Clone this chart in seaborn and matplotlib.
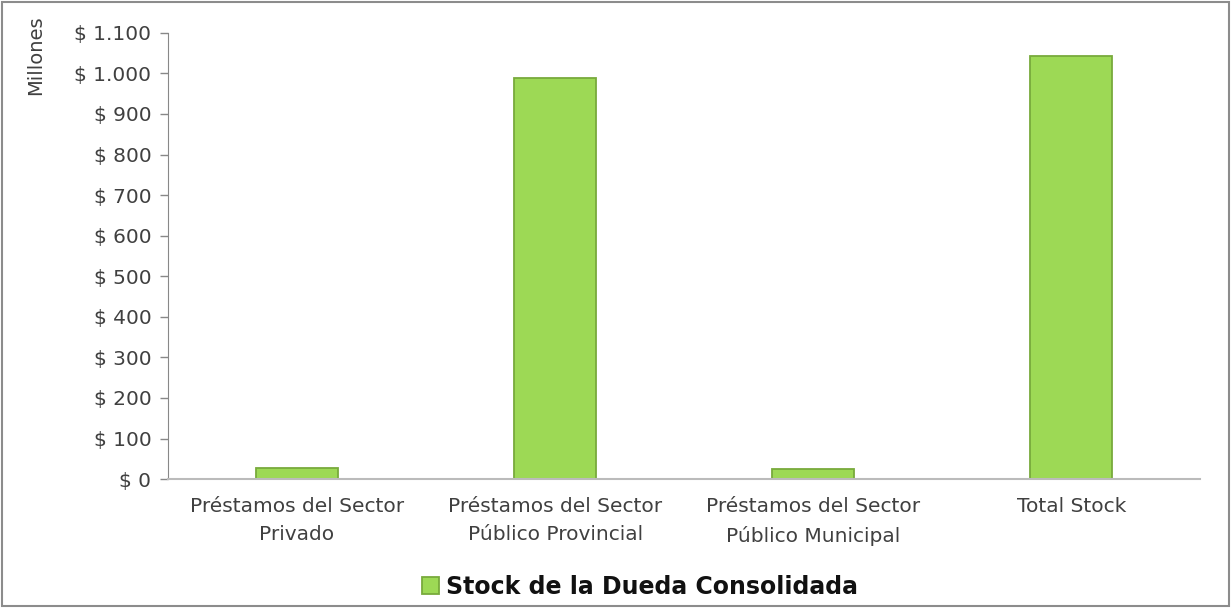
import matplotlib
matplotlib.use("Agg")
import matplotlib.pyplot as plt
import seaborn as sns
import pandas as pd
from matplotlib.patches import Rectangle
from matplotlib.ticker import FuncFormatter, FixedLocator

categorias = ["Préstamos del Sector\nPrivado",
              "Préstamos del Sector\nPúblico Provincial",
              "Préstamos del Sector\nPúblico Municipal",
              "Total Stock"]
valores = [28, 988, 25, 1043]
serie = "Stock de la Dueda Consolidada"

df = pd.DataFrame({"cat": categorias, "val": valores, "serie": serie})

sns.set_style("white")
plt.rcParams['font.family'] = ['DejaVu Sans']

fig = plt.figure(figsize=(12.31, 6.08), dpi=100)
ax = fig.add_axes([0.1365, 0.212, 0.8385, 0.734])

green = "#9dd955"
sns.barplot(data=df, x="cat", y="val", hue="serie", palette=[green], saturation=1,
            width=0.32, ax=ax, edgecolor="#78aa3c", linewidth=1.3, legend=True)

ax.set_ylim(0, 1100)
ax.set_xlim(-0.5, 3.5)
ax.yaxis.set_major_locator(FixedLocator(range(0, 1101, 100)))
def fmt(v, p):
    v = int(round(v))
    s = f"{v:,}".replace(",", ".")
    return f"$ {s}"
ax.yaxis.set_major_formatter(FuncFormatter(fmt))
ax.tick_params(axis="y", labelsize=14.5, labelcolor="#404040", length=6, width=1,
               direction="out", left=True, pad=6, color="#888888")
ax.tick_params(axis="x", which="major", length=0, labelsize=14.5, labelcolor="#404040", pad=13)
ax.set_xticks([-0.5, 0.5, 1.5, 2.5, 3.5], minor=True)
ax.tick_params(axis="x", which="minor", length=7, color="#aaaaaa", width=1, direction="out")
for lab in ax.get_xticklabels():
    lab.set_linespacing(1.6)

ax.set_xlabel("")
ax.set_ylabel("Millones", fontsize=14, color="#404040")
ax.yaxis.set_label_coords(-0.128, 0.95)
ax.yaxis.label.set_va("center")

for s in ["top", "right"]:
    ax.spines[s].set_visible(False)
ax.spines["left"].set_color("#888888")
ax.spines["bottom"].set_color("#bbbbbb")
ax.spines["bottom"].set_linewidth(1.5)

h, l = ax.get_legend_handles_labels()
ax.get_legend().remove()
fig.legend(h, l, loc="center", bbox_to_anchor=(0.52, 0.035), frameon=False,
           prop={"weight": "bold", "size": 17}, handlelength=0.7, handleheight=0.7,
           handletextpad=0.3, labelcolor="#111111")

fig.patches.append(Rectangle((0.002, 0.003), 0.996, 0.994, transform=fig.transFigure,
                             fill=False, edgecolor="#8c8c8c", linewidth=1.5))

fig.savefig("out.png", dpi=100)
